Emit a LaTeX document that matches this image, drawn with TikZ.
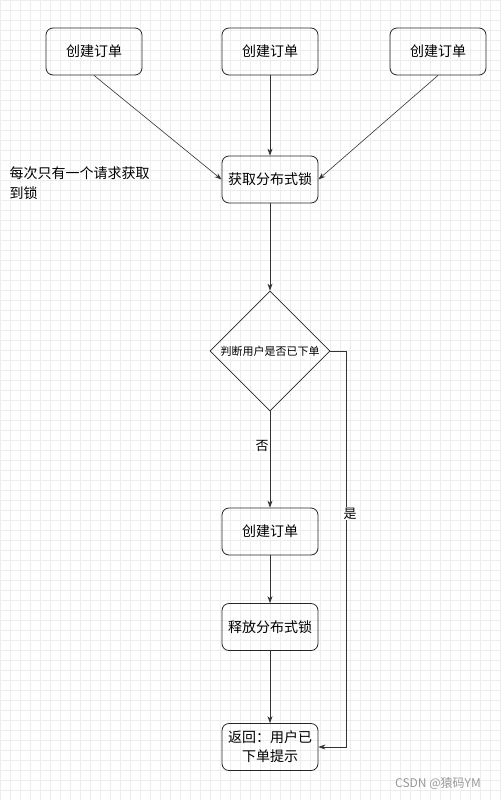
\documentclass[tikz,border=0pt]{standalone}
\usepackage{fontspec}
\setmainfont{Noto Sans CJK SC}
\usetikzlibrary{arrows.meta,shapes.geometric}
\begin{document}
\begin{tikzpicture}[x=1pt,y=-1pt,
  box/.style={draw=black!85,line width=0.8pt,rounded corners=7pt,minimum width=96pt,minimum height=47pt,align=center,font=\fontsize{14}{19}\selectfont,inner sep=2pt},
  dec/.style={draw=black!85,line width=0.8pt,diamond,minimum width=120pt,minimum height=120pt,inner sep=0pt,font=\fontsize{11}{13}\selectfont,aspect=1},
  arr/.style={draw=black!80,-{Stealth[length=7pt,width=5pt]},line width=0.6pt},
  lbl/.style={font=\fontsize{13}{15}\selectfont,fill=white,inner sep=1pt}]
\fill[white] (0,0) rectangle (501,800);
\useasboundingbox (0,0) rectangle (501,800);
\foreach \i in {0,10,...,500} \draw[black!7,line width=0.5pt] (\i,0) -- (\i,800);
\foreach \j in {0,10,...,800} \draw[black!7,line width=0.5pt] (0,\j) -- (501,\j);
\node[box] (a1) at (94,51.5) {创建订单};
\node[box] (a2) at (270,51.5) {创建订单};
\node[box] (a3) at (438,51.5) {创建订单};
\node[box] (lock) at (270,179.5) {获取分布式锁};
\node[dec] (d) at (270,351) {判断用户是否已下单};
\node[box] (c) at (270,531.5) {创建订单};
\node[box] (r) at (270,627) {释放分布式锁};
\node[box] (ret) at (270,747) {返回：用户已\\下单提示};
\node[anchor=west,font=\fontsize{14}{20}\selectfont,align=left] (note) at (6,183) {每次只有一个请求获取\\到锁};
\coordinate (k1) at (346,351);
\coordinate (k2) at (346,747);
\draw[arr] (a1.south) -- (lock.west);
\draw[arr] (a2.south) -- (lock.north);
\draw[arr] (a3.south) -- (lock.east);
\draw[arr] (lock.south) -- (d.north);
\draw[arr] (d.south) -- node[lbl,pos=0.36,xshift=-8pt] {否} (c.north);
\draw[arr] (c.south) -- (r.north);
\draw[arr] (r.south) -- (ret.north);
\draw[arr] (d.east) -- (k1) -- node[lbl,pos=0.41,xshift=4pt] {是} (k2) -- (ret.east);
\node[font=\fontsize{12}{14}\selectfont,text=black!40] (wm) at (438,783) {CSDN @猿码YM};
\end{tikzpicture}
\end{document}
